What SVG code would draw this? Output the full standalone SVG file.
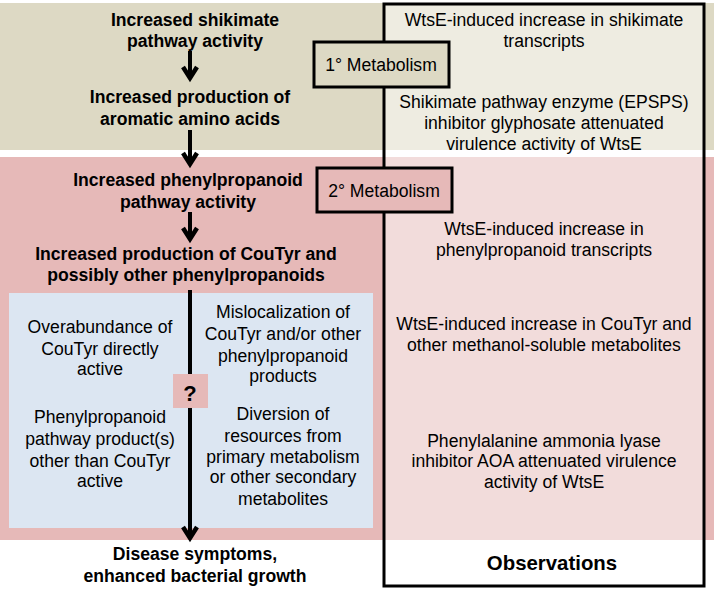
<svg xmlns="http://www.w3.org/2000/svg" width="714" height="590" viewBox="0 0 714 590">
<style>
text{font-family:"Liberation Sans",Arial,sans-serif;font-size:17.6px;fill:#000;text-anchor:middle}
.b{font-weight:bold}
.lbl{stroke:#000;stroke-width:3}
.arr{stroke:#000;stroke-width:4;fill:none}
.hd{stroke:#000;stroke-width:4.5;fill:none;stroke-linejoin:miter;stroke-miterlimit:10}
</style>
<rect x="0" y="0" width="714" height="590" fill="#fff"/>
<g id="bands">
<rect x="0" y="3" width="714" height="147" fill="#DDD9C4"/>
<rect x="0" y="157" width="714" height="383" fill="#E6B9B8"/>
<rect x="384" y="3" width="320" height="147" fill="#EEECE1"/>
<rect x="384" y="157" width="320" height="383" fill="#F2DCDB"/>
<rect x="9" y="293" width="364" height="235" fill="#DCE6F2"/>
</g>
<g id="observations">
<rect x="384" y="4" width="320" height="582" fill="none" stroke="#000" stroke-width="3"/>
<text x="544" y="26">WtsE-induced increase in shikimate</text>
<text x="544" y="47">transcripts</text>
<text x="544" y="108">Shikimate pathway enzyme (EPSPS)</text>
<text x="544" y="129">inhibitor glyphosate attenuated</text>
<text x="544" y="150">virulence activity of WtsE</text>
<text x="544" y="235">WtsE-induced increase in</text>
<text x="544" y="256">phenylpropanoid transcripts</text>
<text x="544" y="330">WtsE-induced increase in CouTyr and</text>
<text x="544" y="351">other methanol-soluble metabolites</text>
<text x="544" y="447">Phenylalanine ammonia lyase</text>
<text x="544" y="467">inhibitor AOA attenuated virulence</text>
<text x="544" y="488">activity of WtsE</text>
<text x="552" y="570" class="b" style="font-size:20.4px">Observations</text>
</g>
<g id="connectors">
<line x1="190" y1="51" x2="190" y2="78" class="arr"/>
<polyline points="183,67 190,78 197,67" class="hd"/>
<line x1="190" y1="130" x2="190" y2="164" class="arr"/>
<polyline points="183,153 190,164 197,153" class="hd"/>
<line x1="190" y1="212" x2="190" y2="239" class="arr"/>
<polyline points="183,228 190,239 197,228" class="hd"/>
<line x1="190" y1="290" x2="190" y2="538" class="arr"/>
<polyline points="183,527 190,538 197,527" class="hd"/>
</g>
<g id="n-shikimate"><text x="195" y="26" class="b">Increased shikimate</text><text x="195" y="47" class="b">pathway activity</text></g>
<g id="n-aromatic"><text x="190" y="103" class="b">Increased production of</text><text x="190" y="125" class="b">aromatic amino acids</text></g>
<g id="n-phenyl"><text x="188" y="186" class="b">Increased phenylpropanoid</text><text x="188" y="208" class="b">pathway activity</text></g>
<g id="n-coutyr"><text x="186" y="260" class="b">Increased production of CouTyr and</text><text x="186" y="281" class="b">possibly other phenylpropanoids</text></g>
<g id="n-primary"><rect x="314" y="42" width="135" height="45" fill="#DDD9C4" class="lbl"/><text x="381" y="71">1° Metabolism</text></g>
<g id="n-secondary"><rect x="317" y="168" width="135" height="44" fill="#E6B9B8" class="lbl"/><text x="384" y="197">2° Metabolism</text></g>
<g id="n-over"><text x="100" y="333">Overabundance of</text><text x="100" y="355">CouTyr directly</text><text x="100" y="375">active</text></g>
<g id="n-other"><text x="100" y="423">Phenylpropanoid</text><text x="100" y="445">pathway product(s)</text><text x="100" y="467">other than CouTyr</text><text x="100" y="487">active</text></g>
<g id="n-misloc"><text x="283" y="318">Mislocalization of</text><text x="283" y="340">CouTyr and/or other</text><text x="283" y="362">phenylpropanoid</text><text x="283" y="382">products</text></g>
<g id="n-diversion"><text x="283" y="420">Diversion of</text><text x="283" y="442">resources from</text><text x="283" y="463">primary metabolism</text><text x="283" y="483">or other secondary</text><text x="283" y="505">metabolites</text></g>
<g id="n-q"><rect x="173" y="374" width="35" height="34" fill="#E6B9B8"/><text x="190" y="401" class="b" style="font-size:22px">?</text></g>
<g id="n-disease"><text x="195" y="560" class="b">Disease symptoms,</text><text x="195" y="582" class="b">enhanced bacterial growth</text></g>
</svg>
